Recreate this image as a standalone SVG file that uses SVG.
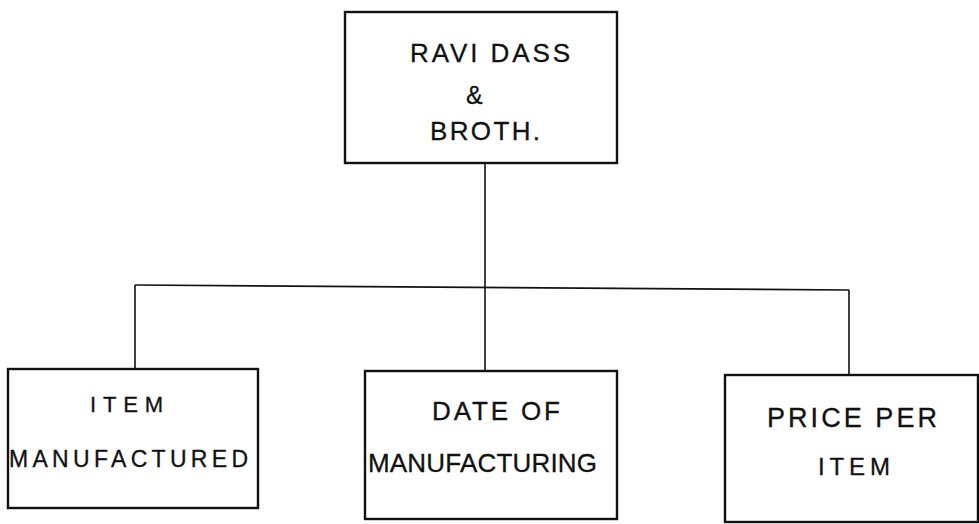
<svg xmlns="http://www.w3.org/2000/svg" width="979" height="524" viewBox="0 0 979 524">
<style>
.box{fill:#fff;stroke:#111;stroke-width:2.4}
.conn{fill:none;stroke:#111;stroke-width:1.6}
text{font-family:"Liberation Sans","DejaVu Sans",sans-serif;fill:#111;stroke:#111;stroke-width:0.3}
</style>
<rect width="979" height="524" fill="#fff"/>
<g id="connectors">
<line class="conn" x1="485" y1="163" x2="485" y2="371"/>
<line class="conn" x1="135" y1="285" x2="849" y2="290"/>
<line class="conn" x1="135" y1="285" x2="135" y2="369"/>
<line class="conn" x1="849" y1="290" x2="849" y2="375"/>
</g>
<g id="root">
<rect class="box" x="345" y="12" width="272" height="151"/>
<text x="410" y="62" font-size="26" textLength="160" lengthAdjust="spacing">RAVI DASS</text>
<text x="466" y="104" font-size="25">&amp;</text>
<text x="430" y="140" font-size="26" textLength="110" lengthAdjust="spacing">BROTH.</text>
</g>
<g id="item-manufactured">
<rect class="box" x="8" y="369" width="250" height="139"/>
<text x="90" y="412" font-size="22" textLength="73" lengthAdjust="spacing">ITEM</text>
<text x="9" y="467" font-size="23" textLength="239" lengthAdjust="spacing">MANUFACTURED</text>
</g>
<g id="date-of-manufacturing">
<rect class="box" x="365" y="371" width="252" height="148"/>
<text x="432" y="420" font-size="26" textLength="128" lengthAdjust="spacing">DATE OF</text>
<text x="368" y="472" font-size="26" textLength="229" lengthAdjust="spacing">MANUFACTURING</text>
</g>
<g id="price-per-item">
<rect class="box" x="725" y="375" width="253" height="147"/>
<text x="767" y="427" font-size="27" textLength="170" lengthAdjust="spacing">PRICE PER</text>
<text x="818" y="475" font-size="24" textLength="72" lengthAdjust="spacing">ITEM</text>
</g>
</svg>
